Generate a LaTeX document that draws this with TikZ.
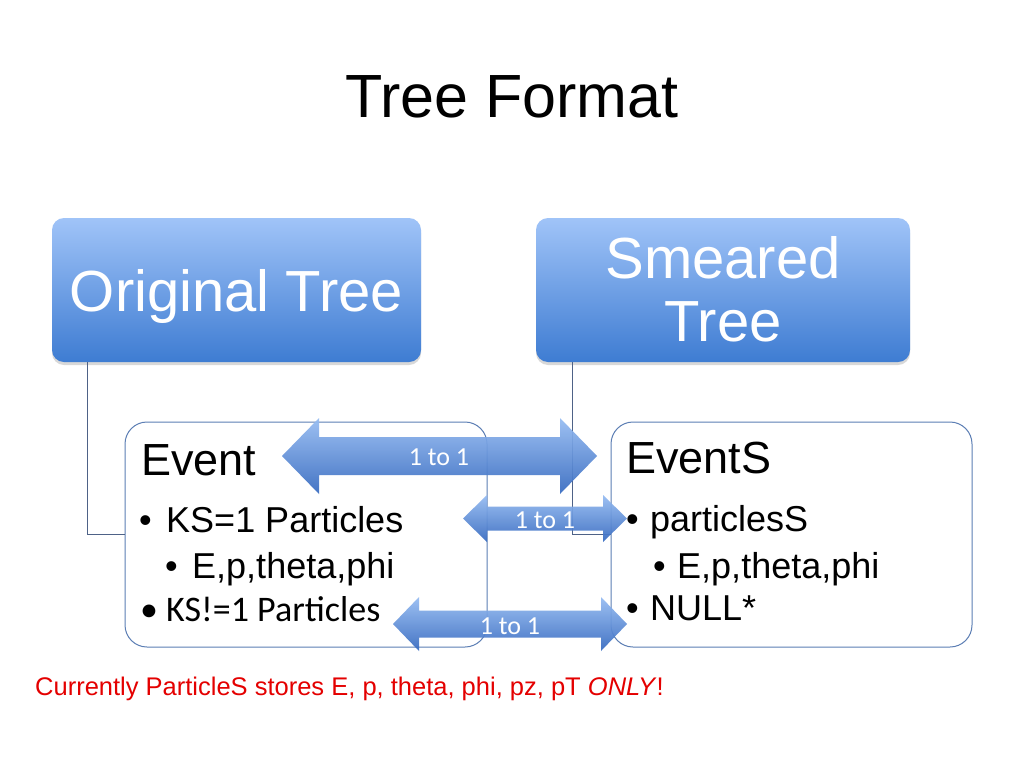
\documentclass[tikz,border=0pt]{standalone}
\usepackage{fontspec}
\setmainfont{Liberation Sans}
\newfontfamily\calibrifont{Carlito}
\usetikzlibrary{shadows}
\definecolor{treetop}{RGB}{160,196,248}
\definecolor{treebot}{RGB}{62,124,210}
\definecolor{arrtop}{RGB}{150,188,242}
\definecolor{arrbot}{RGB}{54,106,192}
\definecolor{evline}{RGB}{92,126,180}
\definecolor{connline}{RGB}{78,98,135}
\definecolor{notered}{RGB}{228,0,0}
\newcommand\myDblArrow[6]{%
  \shade[arrowfill] (#1,#3) -- ({#1+#6},{#3-#5}) -- ({#1+#6},{#3-#4}) -- ({#2-#6},{#3-#4}) -- ({#2-#6},{#3-#5}) -- (#2,#3) -- ({#2-#6},{#3+#5}) -- ({#2-#6},{#3+#4}) -- ({#1+#6},{#3+#4}) -- ({#1+#6},{#3+#5}) -- cycle;}
\begin{document}
\begin{tikzpicture}[x=1pt,y=-1pt,
  treebox/.style={rounded corners=12pt, top color=treetop, bottom color=treebot, minimum width=369pt, minimum height=144pt, inner sep=0pt, drop shadow={opacity=0.3, shadow xshift=0pt, shadow yshift=-3pt}},
  evbox/.style={draw=evline, line width=1pt, rounded corners=22pt, fill=white, minimum width=362pt, minimum height=225pt, inner sep=0pt},
  conn/.style={draw=connline, line width=1pt},
  txt/.style={anchor=base west, inner sep=0pt},
  big/.style={font=\fontsize{36}{36}\selectfont},
  head/.style={font=\fontsize{45}{45}\selectfont},
  treetxt/.style={anchor=base, inner sep=0pt, white, font=\fontsize{58}{58}\selectfont},
  arrowfill/.style={top color=arrtop, bottom color=arrbot, fill opacity=0.93},
  arrlbl/.style={inner sep=0pt, white, font=\calibrifont\fontsize{26}{26}\selectfont}]
\useasboundingbox (0,0) rectangle (1024,768);
\fill[white] (0,0) rectangle (1024,768);
% title
\node[anchor=base, inner sep=0pt, font=\fontsize{61}{61}\selectfont] (title) at (512,117) {Tree Format};
% tree boxes
\node[treebox] (orig) at (236.5,290) {};
\node[treebox, minimum width=374pt] (smear) at (723,290) {};
\node[treetxt] (origt) at (236.5,311) {Original Tree};
\node[treetxt] (smear1) at (723,278) {Smeared};
\node[treetxt] (smear2) at (723,341) {Tree};
% event boxes
\node[evbox] (event) at (306,534.5) {};
\node[evbox, minimum width=361pt] (events) at (791.5,534.5) {};
% connectors
\draw[conn] ([xshift=36pt]orig.south west) |- (event.west);
\draw[conn] ([xshift=37pt]smear.south west) |- (events.west);
% event texts
\node[txt, head] (evt) at (141,475) {Event};
\node[txt, big] (b1) at (139,532) {•};
\node[txt, big] (t1) at (166,532) {KS=1 Particles};
\node[txt, big] (b2) at (165,578) {•};
\node[txt, big] (t2) at (192,578) {E,p,theta,phi};
\node[txt, font=\calibrifont\fontsize{36}{36}\selectfont] (b3) at (140,621) {•};
\node[txt, font=\calibrifont\fontsize{36}{36}\selectfont] (t3) at (166,621) {KS!=1 Particles};
% eventS texts
\node[txt, head] (evs) at (626,473) {EventS};
\node[txt, big] (b4) at (626,531) {•};
\node[txt, big] (t4) at (650,531) {particlesS};
\node[txt, big] (b5) at (653,578) {•};
\node[txt, big] (t5) at (677,578) {E,p,theta,phi};
\node[txt, big] (b6) at (626,620) {•};
\node[txt, big] (t6) at (650,620) {NULL*};
% arrows
\myDblArrow{282}{597}{456}{19}{38}{37}
\myDblArrow{463}{627}{518.5}{12}{23.5}{24}
\myDblArrow{393}{627}{624}{13.5}{27}{26}
\node[arrlbl] (a1) at (439,457) {1 to 1};
\node[arrlbl] (a2) at (545,520) {1 to 1};
\node[arrlbl] (a3) at (510,626) {1 to 1};
% note
\node[txt, notered, font=\fontsize{25.5}{25.5}\selectfont] (note) at (35,695) {Currently ParticleS stores E, p, theta, phi, pz, pT \textit{ONLY}!};
\end{tikzpicture}
\end{document}
